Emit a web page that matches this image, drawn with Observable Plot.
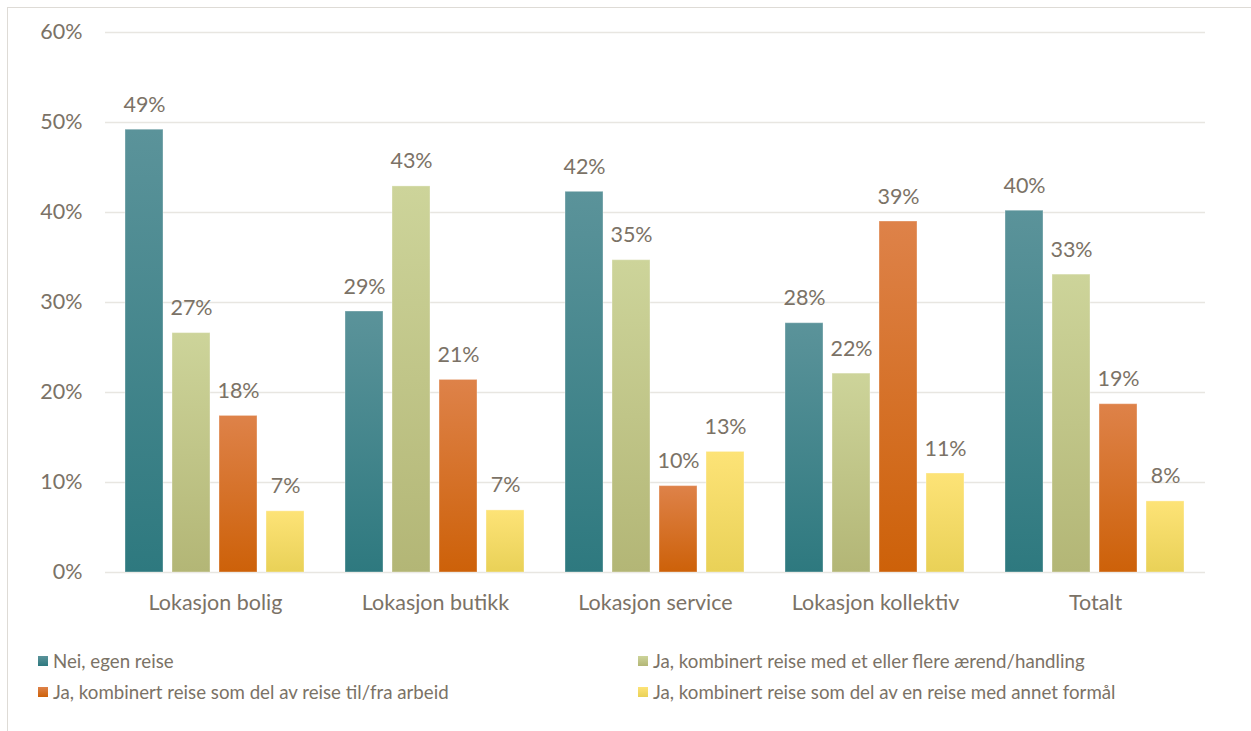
<!DOCTYPE html>
<html>
<head>
<meta charset="utf-8">
<script src="https://cdn.jsdelivr.net/npm/d3@7"></script>
<script src="https://cdn.jsdelivr.net/npm/@observablehq/plot@0.6"></script>
<style>
  body { margin: 0; background: #fff; font-family: Lato, "Open Sans", sans-serif; }
  #frame { position: absolute; left: 7px; top: 7px; width: 1300px; height: 800px; border: 1.5px solid #dedbd6; box-sizing: border-box; }
  #chart { position: absolute; left: 0; top: 0; }
  #legend { position: absolute; left: 0; top: 650px; width: 1251px; font-size: 18.7px; color: #7b7266; }
  .item { position: absolute; white-space: nowrap; display: flex; align-items: center; }
  .sw { width: 10px; height: 10px; margin-right: 5px; }
</style>
</head>
<body>
<div id="frame"></div>
<div id="chart"></div>
<div id="legend"></div>
<script>
const categories = ["Lokasjon bolig", "Lokasjon butikk", "Lokasjon service", "Lokasjon kollektiv", "Totalt"];
const seriesNames = [
  "Nei, egen reise",
  "Ja, kombinert reise med et eller flere ærend/handling",
  "Ja, kombinert reise som del av reise til/fra arbeid",
  "Ja, kombinert reise som del av en reise med annet formål"
];
const nei      = [0.492, 0.290, 0.423, 0.277, 0.402];
const jaAerend = [0.266, 0.429, 0.347, 0.221, 0.331];
const jaArbeid = [0.174, 0.214, 0.096, 0.390, 0.187];
const jaAnnet  = [0.068, 0.069, 0.134, 0.110, 0.079];
const labels = [
  ["49%", "29%", "42%", "28%", "40%"],
  ["27%", "43%", "35%", "22%", "33%"],
  ["18%", "21%", "10%", "39%", "19%"],
  ["7%", "7%", "13%", "11%", "8%"]
];
const yTicks = [0, 0.1, 0.2, 0.3, 0.4, 0.5, 0.6];
const gradTop = ["#5b939a", "#cdd49a", "#de8249", "#fde377"];
const gradBottom = ["#2e797f", "#b3b676", "#cd6109", "#e9d157"];

const allValues = [nei, jaAerend, jaArbeid, jaAnnet];
const data = [];
allValues.forEach((vals, s) => {
  vals.forEach((v, i) => {
    data.push({ category: categories[i], series: seriesNames[s], value: v, label: labels[s][i], s });
  });
});

const textColor = "#7b7266";
const gridColor = "#e8e6e1";

const marks = [
  Plot.ruleY(yTicks, { stroke: gridColor, strokeWidth: 1.6 })
];
seriesNames.forEach((name, s) => {
  marks.push(Plot.barY(data.filter(d => d.s === s), {
    fx: "category", x: "series", y: "value",
    fill: `url(#grad${s})`, stroke: "#ffffff", strokeOpacity: 0.35, strokeWidth: 1, inset: 0
  }));
});
marks.push(Plot.text(data, {
  fx: "category", x: "series", y: "value", text: "label",
  dy: -18, lineAnchor: "bottom", fill: textColor, fontSize: 21.5
}));

const plot = Plot.plot({
  width: 1251,
  height: 625,
  marginTop: 32,
  marginBottom: 53,
  marginLeft: 104,
  marginRight: 45,
  style: { fontFamily: "Lato, 'Open Sans', sans-serif", fontSize: "21.5px", color: textColor, background: "transparent" },
  fx: { domain: categories, padding: 0, axis: "bottom", tickSize: 0, tickPadding: 22, label: null },
  x: { domain: seriesNames, paddingInner: 0.19, paddingOuter: 0.41, axis: null },
  y: { domain: [0, 0.6], ticks: yTicks, tickFormat: d => Math.round(d * 100) + "%", tickSize: 0, tickPadding: 23, label: null },
  marks
});

const svg = d3.select(plot);
const defs = svg.insert("defs", ":first-child");
gradTop.forEach((c, s) => {
  const g = defs.append("linearGradient").attr("id", `grad${s}`).attr("x1", 0).attr("y1", 0).attr("x2", 0).attr("y2", 1);
  g.append("stop").attr("offset", "0%").attr("stop-color", c);
  g.append("stop").attr("offset", "100%").attr("stop-color", gradBottom[s]);
});
document.getElementById("chart").appendChild(plot);

const legendPos = [[38, 0], [638, 0], [38, 31], [638, 31]];
const legend = document.getElementById("legend");
seriesNames.forEach((name, s) => {
  const item = document.createElement("div");
  item.className = "item";
  item.style.left = legendPos[s][0] + "px";
  item.style.top = legendPos[s][1] + "px";
  const sw = document.createElement("span");
  sw.className = "sw";
  sw.style.background = `linear-gradient(${gradTop[s]}, ${gradBottom[s]})`;
  const tx = document.createElement("span");
  tx.textContent = name;
  item.appendChild(sw);
  item.appendChild(tx);
  legend.appendChild(item);
});
</script>
</body>
</html>
